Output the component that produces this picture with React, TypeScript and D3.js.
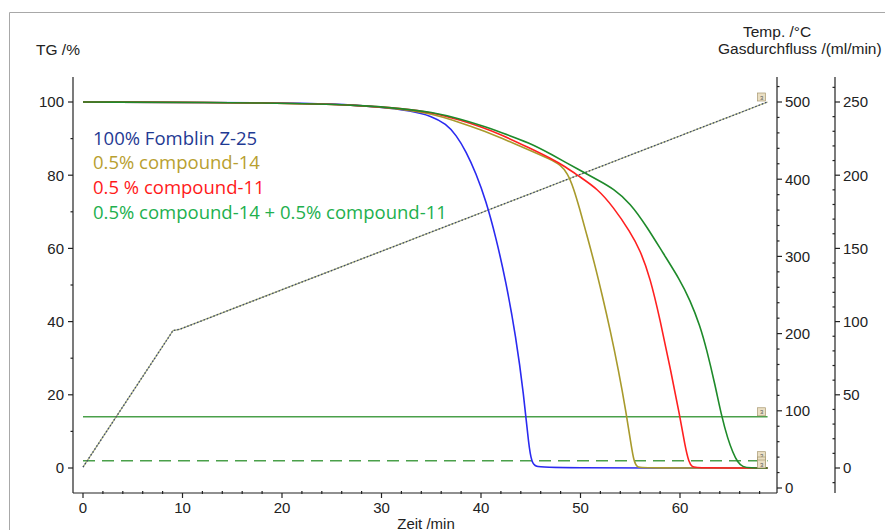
import React from "react";
import * as d3 from "d3";

// TG curves: [min, TG %]
const fomblin = [
  [0, 100], [20, 99.8], [25, 99.5], [29.8, 98.7], [33, 97.6], [35, 96.2], [36.5, 94],
  [37.5, 91], [38.5, 86.5], [39.5, 80.5], [40.5, 73], [41.5, 63], [42.5, 51], [43.5, 36],
  [44.3, 20], [44.8, 6], [45.1, 1.5], [45.5, 0.3], [46.5, 0], [68.8, 0],
];
const comp14 = [
  [0, 100], [20, 99.8], [28, 99.1], [32, 98], [35, 96.9], [38, 94.3], [40, 92.4],
  [42, 90.2], [44.9, 86.8], [47, 84.3], [48, 82.8], [48.7, 80.5], [49.3, 76.5], [49.9, 71],
  [50.6, 64], [51.4, 56], [52.2, 47], [53, 37.5], [53.8, 27], [54.6, 15], [55.1, 6],
  [55.4, 1.5], [55.7, 0.2], [56.2, 0], [68.8, 0],
];
const comp11 = [
  [0, 100], [20, 99.8], [28, 99.1], [32, 98.2], [35, 97.2], [38, 95], [40, 93.2],
  [42, 91.1], [44.9, 87.4], [47, 84.6], [48.5, 82.3], [49.9, 79.6], [51.7, 76.3],
  [53.3, 71.3], [55, 64.5], [56, 59.5], [57, 52], [58, 40.5], [59, 27.5], [60, 14],
  [60.5, 6], [60.9, 1.5], [61.2, 0.3], [61.7, 0], [68.8, 0],
];
const comp14and11 = [
  [0, 100], [20, 99.8], [28, 99.1], [32, 98.2], [35, 97.3], [38, 95.3], [40, 93.6],
  [42, 91.7], [44.9, 88.8], [47, 85.8], [49.9, 81.4], [52, 78.3], [53.3, 76.3],
  [55, 72.4], [56.7, 65.8], [58.3, 58.7], [60, 51.4], [61, 45.9], [62, 39], [62.7, 32.2],
  [63.5, 23], [64.2, 13.9], [64.8, 8], [65.3, 4.3], [65.8, 1.5], [66.3, 0.3], [67, 0],
  [68.8, 0],
];
// temperature program: [min, °C]
const temperature = [[0, 27], [9.05, 204], [9.7, 205.5], [68.8, 500]];
// gas flows: [min, ml/min]
const gasPurge = [[0, 35], [68.8, 35]];
const gasProtect = [[0, 5], [68.8, 5]];

const legendLabels = [
  "100% Fomblin Z-25",
  "0.5% compound-14",
  "0.5 % compound-11",
  "0.5% compound-14 + 0.5% compound-11",
];
const legendColors = ["#1f3a93", "#b8a030", "#ff1a1a", "#22b04e"];

const xTicks = [0, 10, 20, 30, 40, 50, 60];
const tgTicks = [0, 20, 40, 60, 80, 100];
const tempTicks = [0, 100, 200, 300, 400, 500];
const gasTicks = [0, 50, 100, 150, 200, 250];

const W = 885;
const H = 530;
const axisFont = "'Liberation Sans', Arial, sans-serif";

export default function App() {
  const x = d3.scaleLinear().domain([0, 60]).range([83, 680]);
  const yTG = d3.scaleLinear().domain([0, 100]).range([468, 102]);
  const yTemp = d3.scaleLinear().domain([0, 500]).range([488, 102]);
  const yGas = d3.scaleLinear().domain([0, 250]).range([468, 102]);

  const left = 73;
  const right1 = 777;
  const right2 = 835;
  const top = 77;
  const bottom = 493;

  const lineTG = d3.line<number[]>().x((d) => x(d[0])).y((d) => yTG(d[1])).curve(d3.curveBasis);
  const lineTemp = d3.line<number[]>().x((d) => x(d[0])).y((d) => yTemp(d[1]));
  const lineGas = d3.line<number[]>().x((d) => x(d[0])).y((d) => yGas(d[1]));

  const xMinor = d3.range(0, 70, 2).filter((v) => v % 10 !== 0 && x(v) < right1);
  const tgMinor = [10, 30, 50, 70, 90];
  const tempMinor = d3.range(20, 540, 20).filter((v) => v % 100 !== 0 && yTemp(v) > top);
  const gasMinor = d3.range(-10, 270, 10).filter((v) => v % 50 !== 0 && yGas(v) > top && yGas(v) < bottom);

  const marker = (px: number, py: number, key: string) => (
    <g key={key}>
      <rect x={px - 10} y={py - 9} width={8} height={8} fill="#eadfc4" stroke="#a89870" strokeWidth={0.7} />
      <text x={px - 6} y={py - 2.5} fontSize={6} textAnchor="middle" fill="#555" fontFamily={axisFont}>3</text>
    </g>
  );

  const tgSeries = [
    { data: fomblin, color: "#2a2af0" },
    { data: comp14, color: "#a89a2c" },
    { data: comp11, color: "#ff2020" },
    { data: comp14and11, color: "#1e8a2a" },
  ];
  const lastX = x(68.8);

  return (
    <svg width={W} height={H} style={{ position: "fixed", left: 0, top: 0, background: "#fff" }}>
      {/* frame */}
      <path d={`M9.5,${H} V12.5 H${W}`} fill="none" stroke="#a8a8a8" strokeWidth={1} />

      {/* axes */}
      <g stroke="#222" strokeWidth={1.2} fill="none">
        <line x1={left} y1={top} x2={left} y2={bottom} />
        <line x1={left} y1={bottom} x2={right1} y2={bottom} />
        <line x1={right1} y1={top} x2={right1} y2={bottom} />
        <line x1={right2} y1={top} x2={right2} y2={bottom} />
        {tgTicks.map((t) => <line key={"tg" + t} x1={left - 5} x2={left} y1={yTG(t)} y2={yTG(t)} />)}
        {tgMinor.map((t) => <line key={"tgm" + t} x1={left - 2.5} x2={left} y1={yTG(t)} y2={yTG(t)} />)}
        {xTicks.map((t) => <line key={"x" + t} x1={x(t)} x2={x(t)} y1={bottom} y2={bottom + 5} />)}
        {xMinor.map((t) => <line key={"xm" + t} x1={x(t)} x2={x(t)} y1={bottom - 2} y2={bottom + 1} />)}
        {tempTicks.map((t) => <line key={"t" + t} x1={right1} x2={right1 + 5} y1={yTemp(t)} y2={yTemp(t)} />)}
        {tempMinor.map((t) => <line key={"tm" + t} x1={right1} x2={right1 + 2.5} y1={yTemp(t)} y2={yTemp(t)} />)}
        {gasTicks.map((t) => <line key={"g" + t} x1={right2} x2={right2 + 5} y1={yGas(t)} y2={yGas(t)} />)}
        {gasMinor.map((t) => <line key={"gm" + t} x1={right2 - 2.5} x2={right2} y1={yGas(t)} y2={yGas(t)} />)}
      </g>

      <g fontFamily={axisFont} fontSize={15} fill="#222">
        {tgTicks.map((t) => (
          <text key={"tgl" + t} x={left - 9} y={yTG(t)} dy="0.36em" textAnchor="end">{t}</text>
        ))}
        {xTicks.map((t) => (
          <text key={"xl" + t} x={x(t)} y={513} textAnchor="middle">{t}</text>
        ))}
        {tempTicks.map((t) => (
          <text key={"tl" + t} x={right1 + 8} y={yTemp(t)} dy="0.36em">{t}</text>
        ))}
        {gasTicks.map((t) => (
          <text key={"gl" + t} x={right2 + 8} y={yGas(t)} dy="0.36em">{t}</text>
        ))}
        <text x={36} y={55} fontSize={15.5}>TG /%</text>
        <text x={743} y={37} fontSize={15.5}>Temp. /°C</text>
        <text x={718} y={54} fontSize={15.5}>Gasdurchfluss /(ml/min)</text>
        <text x={426} y={529} textAnchor="middle">Zeit /min</text>
      </g>

      {/* gas flow lines */}
      <path d={lineGas(gasPurge) || ""} fill="none" stroke="#4aa04a" strokeWidth={1.5} />
      <path d={lineGas(gasProtect) || ""} fill="none" stroke="#4aa04a" strokeWidth={1.5} strokeDasharray="12 7" />

      {/* temperature */}
      <path d={lineTemp(temperature) || ""} fill="none" stroke="#9aa060" strokeWidth={1.3} opacity={0.8} />
      <path d={lineTemp(temperature) || ""} fill="none" stroke="#3d4a6e" strokeWidth={1.3} strokeDasharray="1.5 2" />

      {/* TG curves */}
      {tgSeries.map((s, i) => (
        <path key={"s" + i} d={lineTG(s.data) || ""} fill="none" stroke={s.color} strokeWidth={1.6} />
      ))}

      {/* end markers */}
      {marker(lastX, yTemp(500), "m1")}
      {marker(lastX, yGas(35), "m2")}
      {marker(lastX, yGas(5), "m3")}
      {marker(lastX, yTG(0) - 2, "m4")}
      {marker(lastX, yTG(0) + 1, "m5")}

      {/* legend */}
      <g fontFamily="'Open Sans', sans-serif" fontSize={18.5}>
        {legendLabels.map((l, i) => (
          <text key={"lg" + i} x={93} y={144.5 + i * 24.8} fill={legendColors[i]}>{l}</text>
        ))}
      </g>
    </svg>
  );
}
